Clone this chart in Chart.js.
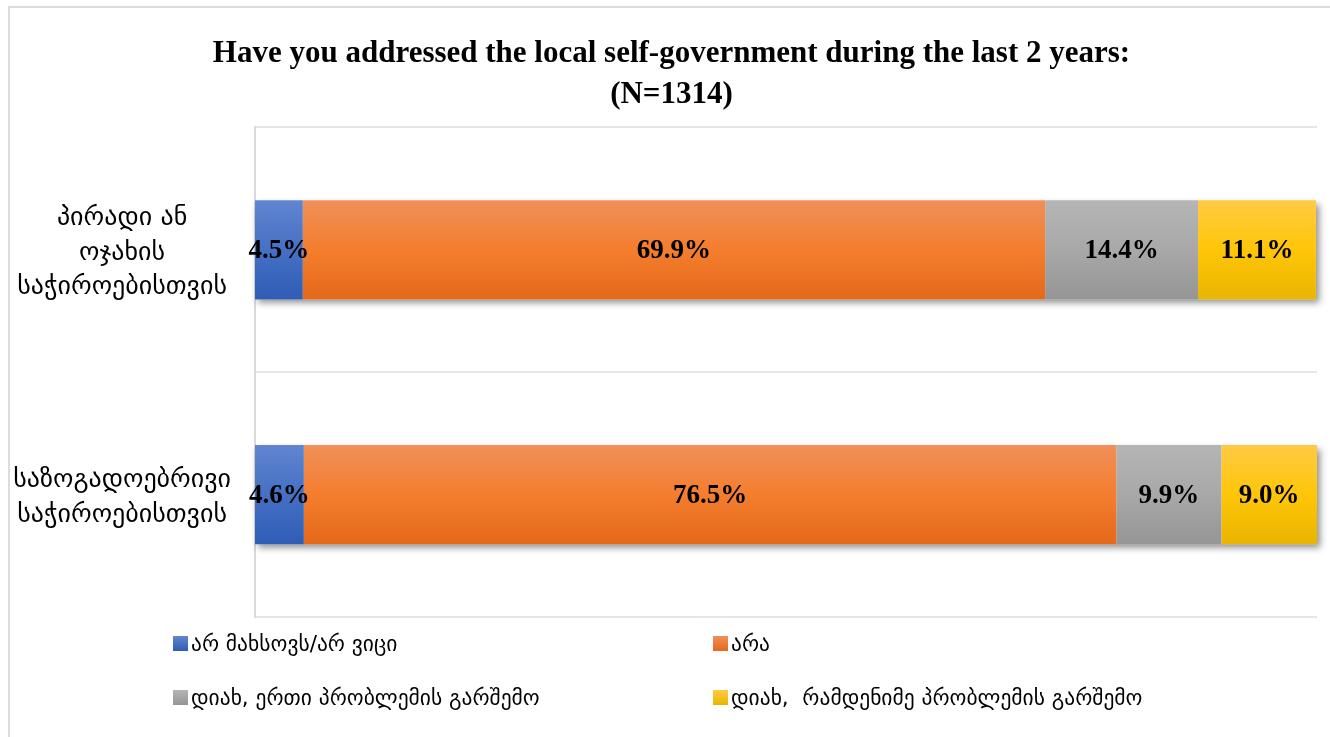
<!DOCTYPE html>
<html>
<head>
<meta charset="utf-8">
<script src="https://cdn.jsdelivr.net/npm/chart.js@4/dist/chart.umd.min.js"></script>
<style>
  html, body { margin: 0; padding: 0; background: #fff; overflow: hidden; }
  #wrap { position: relative; width: 1330px; height: 737px; overflow: hidden; }
  #frame { position: absolute; left: 8px; top: 6px; width: 1400px; height: 760px;
           border: 2px solid #DCDCDC; border-right: none; border-bottom: none;
           box-sizing: border-box; pointer-events: none; }
  #legend { position: absolute; left: 0; top: 620px; width: 1330px; height: 117px;
            font-family: "DejaVu Sans", sans-serif; font-size: 21.5px; color: #000; }
  .item { position: absolute; display: flex; align-items: center; white-space: pre; }
  .box { width: 15px; height: 15px; margin-right: 3px; }
</style>
</head>
<body>
<div id="wrap">
  <canvas id="c" width="1330" height="737"></canvas>
  <div id="frame"></div>
  <div id="legend"></div>
</div>
<script>
// -------- Data ----------
const titleLines = ["Have you addressed the local self-government during the last 2 years:", "(N=1314)"];
const categories = [
  ["პირადი ან", "ოჯახის", "საჭიროებისთვის"],
  ["საზოგადოებრივი", "საჭიროებისთვის"]
];
const seriesNames = [
  "არ მახსოვს/არ ვიცი",
  "არა",
  "დიახ, ერთი პრობლემის გარშემო",
  "დიახ,  რამდენიმე პრობლემის გარშემო"
];
const dontKnow = [4.5, 4.6];
const no = [69.9, 76.5];
const yesOne = [14.4, 9.9];
const yesSeveral = [11.1, 9.0];

// top / middle / bottom colours of each bar gradient
const shades = [
  ["#6185D0", "#4570C4", "#2F5DB5"],
  ["#F0905A", "#F47D2E", "#E4691A"],
  ["#B5B5B5", "#A8A8A8", "#959595"],
  ["#FFCA44", "#FFC608", "#E9B500"]
];

// -------- Helpers ----------
function gradientFor(i) {
  return (ctx) => {
    const chart = ctx.chart;
    const y = chart.scales.y;
    if (!chart.chartArea || !y || ctx.dataIndex === undefined) return shades[i][1];
    const mid = y.getPixelForValue(ctx.dataIndex);
    const half = (chart.chartArea.height / categories.length) * 0.405 / 2;
    const g = chart.ctx.createLinearGradient(0, mid - half, 0, mid + half);
    g.addColorStop(0, shades[i][0]);
    g.addColorStop(0.5, shades[i][1]);
    g.addColorStop(1, shades[i][2]);
    return g;
  };
}

// nudge the title a little to the right, like the original
const titleNudge = {
  id: "titleNudge",
  afterLayout(chart) {
    if (chart.titleBlock) {
      chart.titleBlock.left += 13;
      chart.titleBlock.right += 13;
    }
  }
};

// soft shadow under each whole stacked bar
const barShadow = {
  id: "barShadow",
  beforeDatasetsDraw(chart) {
    const first = chart.getDatasetMeta(0).data;
    const last = chart.getDatasetMeta(chart.data.datasets.length - 1).data;
    const c = chart.ctx;
    c.save();
    c.shadowColor = "rgba(0,0,0,0.45)";
    c.shadowBlur = 7;
    c.shadowOffsetX = 3;
    c.shadowOffsetY = 4;
    c.fillStyle = "#fff";
    first.forEach((el, i) => {
      const end = last[i];
      c.fillRect(el.base, el.y - el.height / 2, end.x - el.base, el.height);
    });
    c.restore();
  }
};

// value labels in the middle of each segment
const valueLabels = {
  id: "valueLabels",
  afterDatasetsDraw(chart) {
    const c = chart.ctx;
    c.save();
    c.font = "bold 27px 'Liberation Serif', serif";
    c.fillStyle = "#000";
    c.textAlign = "center";
    c.textBaseline = "middle";
    chart.data.datasets.forEach((ds, d) => {
      chart.getDatasetMeta(d).data.forEach((el, i) => {
        c.fillText(ds.data[i].toFixed(1) + "%", (el.x + el.base) / 2, el.y + 1);
      });
    });
    c.restore();
  }
};

const seriesData = [dontKnow, no, yesOne, yesSeveral];

new Chart(document.getElementById("c"), {
  type: "bar",
  data: {
    labels: categories,
    datasets: seriesData.map((vals, i) => ({
      label: seriesNames[i],
      data: vals,
      backgroundColor: gradientFor(i),
      borderWidth: 0,
      categoryPercentage: 1,
      barPercentage: 0.405
    }))
  },
  options: {
    indexAxis: "y",
    responsive: false,
    animation: false,
    layout: { padding: { left: 0, right: 13, top: 0, bottom: 120 } },
    scales: {
      x: { stacked: true, min: 0, max: 100, display: false },
      y: {
        stacked: true,
        grid: { color: "#E6E6E6", lineWidth: 2, drawTicks: false },
        border: { color: "#D9D9D9", width: 2 },
        ticks: {
          color: "#000",
          crossAlign: "center",
          padding: 24,
          labelOffset: 3,
          font: { family: "'DejaVu Sans', sans-serif", size: 26, lineHeight: 1.33 }
        },
        afterFit(scale) {
          scale.width = 255;
          scale.paddingTop = 0;
          scale.paddingBottom = 0;
        }
      }
    },
    plugins: {
      legend: { display: false },
      tooltip: { enabled: false },
      title: {
        display: true,
        text: titleLines,
        color: "#000",
        font: { family: "'Liberation Serif', serif", size: 31, weight: "bold", lineHeight: 1.33 },
        padding: { top: 33, bottom: 12 }
      }
    }
  },
  plugins: [titleNudge, barShadow, valueLabels]
});

// -------- Legend (2 columns) ----------
const legendPos = [[173, 23], [713, 23], [173, 77], [713, 77]];
const legend = document.getElementById("legend");
seriesNames.forEach((name, i) => {
  const item = document.createElement("div");
  item.className = "item";
  item.style.left = legendPos[i][0] + "px";
  item.style.top = (legendPos[i][1] - 14) + "px";
  item.style.height = "28px";
  item.innerHTML = `<div class="box" style="background:linear-gradient(${shades[i][0]},${shades[i][2]})"></div><span>${name}</span>`;
  legend.appendChild(item);
});
</script>
</body>
</html>
